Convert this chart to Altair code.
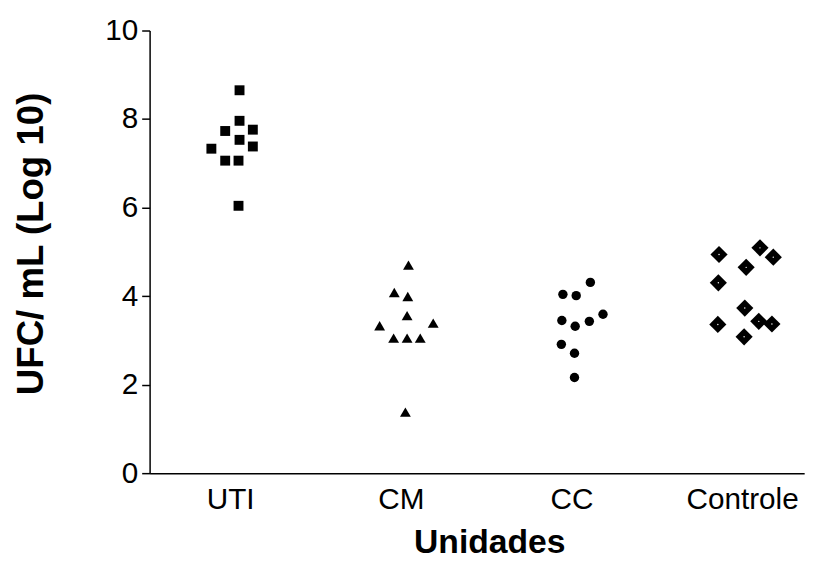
import altair as alt
import pandas as pd

groups = ["UTI", "CM", "CC", "Controle"]

uti_vals = [8.65, 7.96, 7.73, 7.76, 7.53, 7.33, 7.38, 7.06, 7.06, 6.04]
uti_off = [0.055, 0.055, -0.029, 0.133, 0.055, -0.110, 0.133, -0.029, 0.049, 0.049]

cm_vals = [4.70, 4.08, 3.99, 3.56, 3.33, 3.39, 3.05, 3.05, 3.05, 1.38]
cm_off = [0.045, -0.038, 0.041, 0.037, -0.124, 0.190, -0.042, 0.037, 0.114, 0.027]

cc_vals = [4.31, 4.04, 4.01, 3.59, 3.45, 3.43, 3.32, 2.91, 2.71, 2.16]
cc_off = [0.111, -0.050, 0.028, 0.185, -0.056, 0.105, 0.022, -0.059, 0.018, 0.018]

ctl_vals = [4.94, 5.09, 4.88, 4.65, 4.30, 3.73, 3.36, 3.43, 3.37, 3.08]
ctl_off = [-0.135, 0.105, 0.183, 0.024, -0.139, 0.016, -0.142, 0.098, 0.175, 0.012]

y_ticks = [0, 2, 4, 6, 8, 10]

rows = []
for gi, (g, vals, offs) in enumerate(zip(groups,
                                        [uti_vals, cm_vals, cc_vals, ctl_vals],
                                        [uti_off, cm_off, cc_off, ctl_off])):
    for v, o in zip(vals, offs):
        rows.append({"grupo": g, "pos": gi + 1 + o, "ufc": v})
df = pd.DataFrame(rows)

FONT = "Liberation Sans"

x_enc = alt.X("pos:Q",
              scale=alt.Scale(domain=[0.528, 4.364], nice=False, zero=False),
              axis=alt.Axis(values=[1, 2, 3, 4],
                            labelExpr="['', 'UTI', 'CM', 'CC', 'Controle'][datum.value]",
                            ticks=False, tickSize=0, grid=False,
                            labelBaseline="alphabetic", labelPadding=36,
                            labelFontSize=30,
                            title="Unidades", titleFontSize=34, titleFontWeight="bold",
                            titleBaseline="alphabetic", titleY=80, titleX=343))
y_enc = alt.Y("ufc:Q",
              scale=alt.Scale(domain=[0, 10], nice=False),
              axis=alt.Axis(values=y_ticks, tickSize=8, labelPadding=4, grid=False,
                            labelFontSize=30,
                            title="UFC/ mL (Log 10)", titleFontSize=37,
                            titleFontWeight="bold", titleX=-100, titleY=215,
                            titleBaseline="bottom"))

base = alt.Chart(df)

def layer_for(group, shape, size, color="black"):
    return base.transform_filter(alt.datum.grupo == group).mark_point(
        filled=True, opacity=1, fill=color, strokeOpacity=0,
        shape=shape, size=size
    ).encode(x=x_enc, y=y_enc)

squares = layer_for("UTI", "square", 100)
triangles = layer_for("CM", "triangle-up", 120)
circles = layer_for("CC", "circle", 90)
diamonds = layer_for("Controle", "diamond", 300)
dots = layer_for("Controle", "circle", 2, color="white")

chart = alt.layer(squares, triangles, circles, diamonds, dots).properties(
    width=661, height=447,
    padding={"left": 143, "top": 20, "right": 18, "bottom": 89},
    autosize=alt.AutoSizeParams(type="none"),
    background="white",
).configure_view(stroke=None).configure_axis(
    domainColor="black", domainWidth=1.5, tickColor="black", tickWidth=1.5,
    labelColor="black", titleColor="black", labelFont=FONT, titleFont=FONT,
)

chart.save("out.html", embed_options={"renderer": "svg", "actions": False})
